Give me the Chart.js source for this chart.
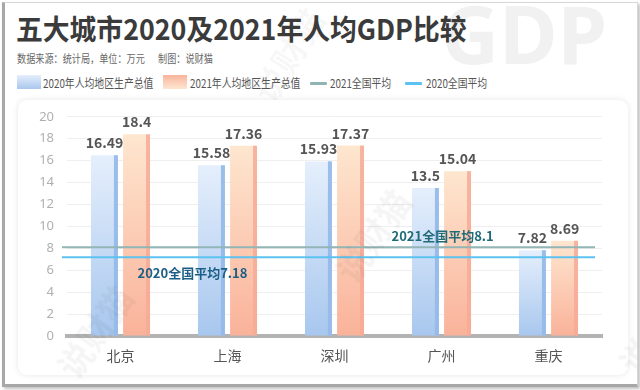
<!DOCTYPE html>
<html><head><meta charset="utf-8">
<script src="https://cdn.jsdelivr.net/npm/chart.js@4"></script>
<style>
html,body{margin:0;padding:0;background:#fff;}
#frame{position:absolute;left:2px;top:2px;width:632px;height:381px;border:1px solid #d8d8d8;border-left:3px solid #a8a8a8;border-bottom:3px solid #a8a8a8;background:#fff;overflow:hidden;font-family:"Noto Sans CJK SC","Noto Sans",sans-serif;box-shadow:2px 2px 3px rgba(0,0,0,0.25);}
.wm{position:absolute;color:rgba(0,0,0,0.04);font-weight:bold;white-space:nowrap;transform-origin:left top;}
#gdp{position:absolute;left:436px;top:-10px;font-size:80px;line-height:1;font-weight:bold;color:#f1f1f1;font-family:"Noto Sans","DejaVu Sans",sans-serif;}
#title{position:absolute;left:11px;top:4px;font-size:28.5px;font-weight:bold;color:#3b3b3b;transform:scaleX(0.94);transform-origin:left top;white-space:nowrap;}
.sub{position:absolute;top:47px;font-size:11px;color:#666;transform:scaleX(0.83);transform-origin:left top;white-space:nowrap;}
.li{position:absolute;top:71px;white-space:nowrap;font-size:12px;line-height:18px;color:#555;transform:scaleX(0.82);transform-origin:left top;}
.box{position:absolute;top:72px;width:24px;height:14px;}
.ln{position:absolute;top:79px;width:17px;height:3px;border-radius:1px;}
#card{position:absolute;left:13px;top:97px;width:610px;height:275px;background:#fff;border-radius:9px;box-shadow:0 0 6px rgba(0,0,0,0.10);}
#card canvas{position:absolute;left:0;top:-4px;}
</style></head>
<body>
<div id="frame">
  <div id="gdp">GDP</div>
  <div class="wm" style="left:235px;top:82px;font-size:34px;transform:rotate(-58deg);">说财猫</div>
  <div id="title">五大城市2020及2021年人均GDP比较</div>
  <div class="sub" style="left:12px;">数据来源：统计局，单位：万元</div>
  <div class="sub" style="left:153px;">制图：说财猫</div>
  <span class="box" style="left:12px;background:linear-gradient(#e4eefb,#a9c7ee);"></span>
  <span class="li" style="left:38px;">2020年人均地区生产总值</span>
  <span class="box" style="left:158px;background:linear-gradient(#f9b49c,#fde6d0);"></span>
  <span class="li" style="left:185px;">2021年人均地区生产总值</span>
  <span class="ln" style="left:305px;background:#8fb4b4;"></span>
  <span class="li" style="left:325px;">2021全国平均</span>
  <span class="ln" style="left:400px;background:#5cc2f0;"></span>
  <span class="li" style="left:421px;">2020全国平均</span>
  <div id="card"><canvas id="c" width="610" height="280"></canvas></div>
  <div class="wm" style="left:40px;top:356px;font-size:34px;transform:rotate(-55deg);">说财猫</div>
  <div class="wm" style="left:318px;top:260px;font-size:34px;transform:rotate(-55deg);">说财猫</div>
  <div class="wm" style="left:602px;top:352px;font-size:34px;transform:rotate(-55deg);">说财猫</div>
</div>
<script>
const categories = ["北京","上海","深圳","广州","重庆"];
const gdp2020 = [16.49, 15.58, 15.93, 13.5, 7.82];
const gdp2021 = [18.4, 17.36, 17.37, 15.04, 8.69];
const avg2021 = 8.1;
const avg2020 = 7.18;
const yTicks = [0,2,4,6,8,10,12,14,16,18,20];
const seriesNames = ["2020年人均地区生产总值","2021年人均地区生产总值"];

const FONT = '"Noto Sans CJK SC","Noto Sans",sans-serif';

function barGradient(top, bottom){
  return function(ctx){
    const chart = ctx.chart;
    if (!chart.chartArea || ctx.parsed === undefined || ctx.parsed === null) return bottom;
    const ys = chart.scales.y;
    const v = ctx.parsed.y;
    const yTop = ys.getPixelForValue(v), yBase = ys.getPixelForValue(0);
    if (!isFinite(yTop) || yBase - yTop < 1) return bottom;
    const g = chart.ctx.createLinearGradient(0, yTop, 0, yBase);
    g.addColorStop(0, top);
    g.addColorStop(1, bottom);
    return g;
  };
}

const sideColors = ['rgba(150,186,232,0.95)','rgba(246,170,150,0.85)'];

const decor = {
  id:'decor',
  afterDatasetsDraw(chart){
    const c = chart.ctx, ys = chart.scales.y, a = chart.chartArea;
    chart.data.datasets.forEach((ds, di) => {
      const meta = chart.getDatasetMeta(di);
      meta.data.forEach((el) => {
        const p = el.getProps(['x','y','base','width'], true);
        c.save();
        c.fillStyle = sideColors[di];
        c.fillRect(p.x + p.width/2 - 4, p.y, 4, p.base - p.y);
        c.restore();
      });
    });
    const lines = [[avg2021,'#92b5b6'],[avg2020,'#5cc2f0']];
    lines.forEach(([v,col]) => {
      const y = ys.getPixelForValue(v);
      c.save();
      c.strokeStyle = col; c.lineWidth = 2;
      c.beginPath(); c.moveTo(a.left - 5, y); c.lineTo(a.right - 7, y); c.stroke();
      c.restore();
    });
    c.save();
    c.font = 'bold 13px ' + FONT;
    c.textBaseline = 'alphabetic';
    c.fillStyle = '#1f6b78';
    c.fillText('2021全国平均' + avg2021, chart.scales.x.getPixelForValue(3) - 50, ys.getPixelForValue(avg2021) - 6);
    c.fillStyle = '#1c5f86';
    c.fillText('2020全国平均' + avg2020, chart.scales.x.getPixelForValue(0) + 17, ys.getPixelForValue(avg2020) + 21);
    c.font = 'bold 14px ' + FONT;
    c.fillStyle = '#555';
    c.textAlign = 'center';
    chart.data.datasets.forEach((ds, di) => {
      const meta = chart.getDatasetMeta(di);
      meta.data.forEach((el, i) => {
        const p = el.getProps(['x','y'], true);
        c.fillText(String(ds.data[i]), p.x, p.y - 7);
      });
    });
    c.restore();
  }
};

new Chart(document.getElementById('c'), {
  type:'bar',
  data:{
    labels: categories,
    datasets:[
      {label:seriesNames[0], data:gdp2020, backgroundColor:barGradient('#e5effc','#a8c7ee'), categoryPercentage:0.6, barPercentage:0.84},
      {label:seriesNames[1], data:gdp2021, backgroundColor:barGradient('#fee6cf','#fab29a'), categoryPercentage:0.6, barPercentage:0.84}
    ]
  },
  options:{
    responsive:false, animation:false,
    layout:{padding:{left:0,right:26,top:13,bottom:0}},
    plugins:{legend:{display:false}, tooltip:{enabled:false}},
    scales:{
      x:{
        grid:{display:false, drawTicks:false},
        border:{color:'#b3b3b3', width:4},
        ticks:{color:'#555', font:{family:FONT, size:14}, padding:11},
        afterFit(s){ s.height = 40; }
      },
      y:{
        min:0, max:20,
        afterBuildTicks(s){ s.ticks = yTicks.map(v => ({value:v})); },
        grid:{color:'#efefef', drawTicks:false, lineWidth:1},
        border:{display:false},
        ticks:{color:'#b0b0b0', font:{family:'"Noto Sans",sans-serif', size:13}, padding:13},
        afterFit(s){ s.width = 49; }
      }
    }
  },
  plugins:[decor]
});
</script>
</body></html>
